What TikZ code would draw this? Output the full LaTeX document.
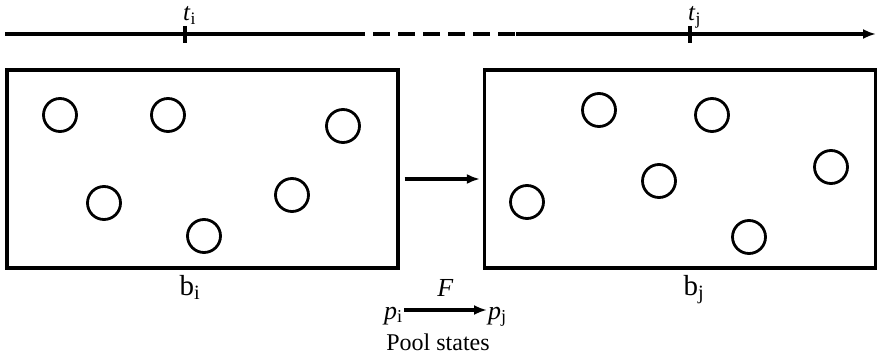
\documentclass[tikz,border=0pt]{standalone}
\usepackage{fontspec}
\setmainfont{Liberation Serif}
\usetikzlibrary{positioning,arrows.meta,calc}
\tikzset{
  pool/.style={draw,line width=3.2pt,minimum width=391pt,minimum height=198pt,inner sep=0pt},
  ball/.style={draw,circle,line width=2.8pt,minimum size=33pt,inner sep=0pt},
  arr/.style={-{Latex[length=13pt,width=10pt]},line width=3.2pt},
  axis/.style={line width=3.2pt},
  lbl/.style={font=\fontsize{29}{33}\selectfont,inner sep=1pt}
}

\begin{document}
\begin{tikzpicture}[x=1pt,y=-1pt]
\useasboundingbox (0,0) rectangle (883,355);

% time axis
\coordinate (ax0) at (5,34);
\coordinate (ax1) at (365,34);
\coordinate (ax2) at (516,34);
\coordinate (ax3) at (876,34);
\draw[axis] (ax0) -- (ax1);
\draw[axis,dash pattern=on 17pt off 8pt,dash phase=17pt] (ax1) -- (ax2);
\draw[arr] (ax2) -- (ax3);

\coordinate (ti) at (185,34);
\coordinate (tj) at (690,34);
\draw[axis] ($(ti)+(0,-8)$) -- ($(ti)+(0,9)$);
\draw[axis] ($(tj)+(0,-8)$) -- ($(tj)+(0,9)$);
\node[lbl,font=\fontsize{25}{28}\selectfont,anchor=base west] (tilbl) at (182,21) {\textit{t}\textsubscript{i}};
\node[lbl,font=\fontsize{25}{28}\selectfont,anchor=base west] (tjlbl) at (687,21) {\textit{t}\textsubscript{j}};

% the two pools
\node[pool] (bi) at (202.5,169) {};
\node[pool] (bj) at (680,169) {};
\node[lbl,anchor=base] (bilbl) at (190,295) {b\textsubscript{i}};
\node[lbl,anchor=base] (bjlbl) at (694,295) {b\textsubscript{j}};

% balls in b_i
\node[ball] (a1) at (60,115) {};
\node[ball] (a2) at (168,115) {};
\node[ball] (a3) at (343,126) {};
\node[ball] (a4) at (104,203) {};
\node[ball] (a5) at (292,195) {};
\node[ball] (a6) at (204,236) {};

% balls in b_j
\node[ball] (c1) at (599,110) {};
\node[ball] (c2) at (712,115) {};
\node[ball] (c3) at (659,181) {};
\node[ball] (c4) at (831,167) {};
\node[ball] (c5) at (527,202) {};
\node[ball] (c6) at (749,237) {};

\draw[arr,shorten <=5pt,shorten >=3pt] ($(bi.east)+(0,10)$) -- ($(bj.west)+(0,10)$);

% pool states
\node[lbl,font=\fontsize{26}{30}\selectfont,anchor=base east] (pi) at (404,319) {\textit{p}\textsubscript{i}};
\node[lbl,font=\fontsize{26}{30}\selectfont,anchor=base west] (pj) at (487,319) {\textit{p}\textsubscript{j}};
\draw[arr] (pi.east |- 0,310) coordinate (f0) -- (pj.west |- 0,310) coordinate (f1);
\node[lbl,font=\fontsize{26}{30}\selectfont,anchor=base] (flbl) at ($(f0)!0.5!(f1)+(0,-14)$) {\textit{F}};
\node[lbl,font=\fontsize{24}{28}\selectfont,anchor=base] (ps) at (438,350) {Pool states};
\end{tikzpicture}
\end{document}
